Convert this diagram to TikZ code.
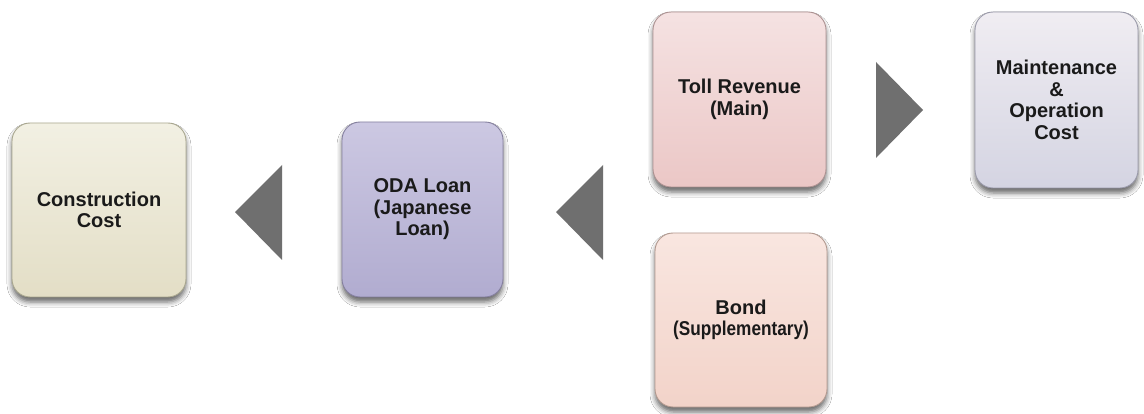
\documentclass[tikz,border=0pt]{standalone}
\usepackage{fontspec}
\usepackage{graphicx}
\setmainfont{Liberation Sans}
\usetikzlibrary{shadows.blur}
\definecolor{ccTop}{HTML}{F2F0E3}
\definecolor{ccBot}{HTML}{E3DEC6}
\definecolor{ccRim}{HTML}{A9A78F}
\definecolor{odaTop}{HTML}{CCC8E2}
\definecolor{odaBot}{HTML}{B1ACD0}
\definecolor{odaRim}{HTML}{85809F}
\definecolor{tollTop}{HTML}{F5E2E2}
\definecolor{tollBot}{HTML}{EBC7C6}
\definecolor{tollRim}{HTML}{AD9292}
\definecolor{bondTop}{HTML}{F9E6E0}
\definecolor{bondBot}{HTML}{F2D3C9}
\definecolor{bondRim}{HTML}{B39A90}
\definecolor{mtTop}{HTML}{F0EDF2}
\definecolor{mtBot}{HTML}{D4D4E2}
\definecolor{mtRim}{HTML}{9A9AAA}
\definecolor{triGray}{HTML}{6F6F6F}
\definecolor{txt}{HTML}{1A1A1A}
\tikzset{
  card/.style={rectangle, rounded corners=18pt, draw=#1Rim, line width=0.9pt,
    top color=#1Top, bottom color=#1Bot,
    blur shadow={shadow xshift=0pt, shadow yshift=-5pt, shadow blur radius=5pt, shadow opacity=60},
    align=center, text=txt, font=\fontsize{20}{21.5}\selectfont\bfseries,
    inner sep=0pt},
  tri/.style={fill=triGray, draw=none}
}
\begin{document}
\begin{tikzpicture}[x=1pt,y=-1pt]
\useasboundingbox (0,0) rectangle (1144,414);
\fill[white] (0,0) rectangle (1144,414);
\node[card=cc, minimum width=174pt, minimum height=174pt] (cc) at (99,210) {Construction\\Cost};
\node[card=oda, minimum width=161pt, minimum height=175pt] (oda) at (422.5,209.5) {ODA Loan\\(Japanese\\Loan)};
\node[card=toll, minimum width=173pt, minimum height=175pt] (toll) at (739.5,99.5) {Toll Revenue\\(Main)};
\node[card=bond, minimum width=172pt, minimum height=174pt] (bond) at (741,320) {Bond\\\scalebox{0.86}[1]{(Supplementary)}};
\node[card=mt, minimum width=163pt, minimum height=176pt] (mt) at (1056.5,100) {Maintenance\\\&\\Operation\\Cost};
% triangles
\coordinate (t1) at (235,212);
\coordinate (t2) at (556,212);
\coordinate (t3) at (923,110);
\fill[tri] (t1) -- (282,165) -- (282,260) -- cycle;
\fill[tri] (t2) -- (603,165) -- (603,260) -- cycle;
\fill[tri] (t3) -- (876,62) -- (876,158) -- cycle;
\end{tikzpicture}
\end{document}
